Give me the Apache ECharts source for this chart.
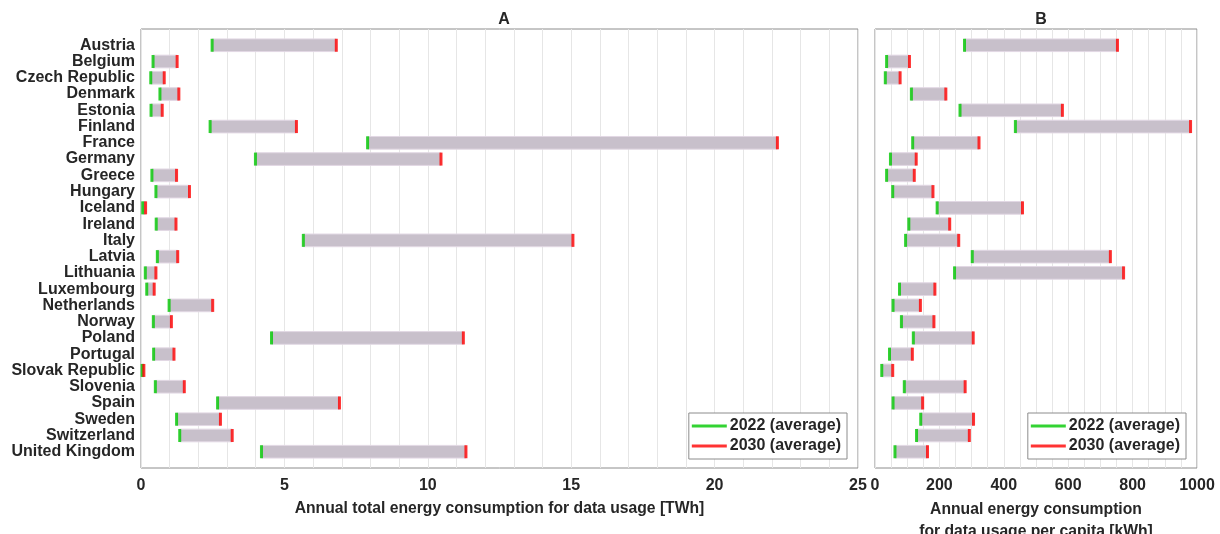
<!DOCTYPE html>
<html>
<head>
<meta charset="utf-8">
<script src="https://cdn.jsdelivr.net/npm/echarts@6/dist/echarts.min.js"></script>
<style>
html,body{margin:0;padding:0;background:#fff;}
#chart{width:1220px;height:534px;}
</style>
</head>
<body>
<div id="chart"></div>
<script>
const countries = ['Austria','Belgium','Czech Republic','Denmark','Estonia','Finland','France','Germany','Greece','Hungary','Iceland','Ireland','Italy','Latvia','Lithuania','Luxembourg','Netherlands','Norway','Poland','Portugal','Slovak Republic','Slovenia','Spain','Sweden','Switzerland','United Kingdom'];
const twh2022 = [2.48,0.42,0.34,0.66,0.35,2.41,7.90,3.99,0.38,0.52,0.06,0.53,5.66,0.57,0.15,0.20,0.98,0.43,4.55,0.44,0.04,0.50,2.67,1.24,1.35,4.20];
const twh2030 = [6.81,1.26,0.81,1.32,0.74,5.42,22.19,10.46,1.24,1.69,0.16,1.22,15.06,1.28,0.52,0.46,2.50,1.06,11.24,1.15,0.10,1.51,6.92,2.77,3.18,11.33];
const kwh2022 = [278,36,32,113,264,436,117,48,36,55,193,105,95,302,247,76,56,82,119,45,21,91,56,142,129,62];
const kwh2030 = [753,107,78,220,582,980,323,128,122,180,458,232,260,731,772,186,141,183,305,116,55,280,148,306,293,163];
const xTicksA = {min:0, max:25, interval:5};
const xTicksB = {min:0, max:1000, interval:200};
const legendNames = ['2022 (average)','2030 (average)'];

const FONT = 'Liberation Sans, Arial, sans-serif';
const TXT = '#262626';
const yCats = [''].concat(countries).concat(['']);

function rangeData(a, b){ return countries.map((c,i)=>[a[i], b[i], i+1]); }
function pointData(a){ return countries.map((c,i)=>[a[i], i+1]); }

function renderRange(params, api){
  const s = api.coord([api.value(0), api.value(2)]);
  const e = api.coord([api.value(1), api.value(2)]);
  const h = api.size([0,1])[1]*0.78;
  return {type:'rect', shape:{x:s[0], y:s[1]-h/2, width:e[0]-s[0], height:h},
    style:{fill:'#c8c0cb', stroke:'#e2d8e4', lineWidth:1}};
}

const chart = echarts.init(document.getElementById('chart'), null, {renderer:'canvas'});

function xAxisCfg(idx, t, name, gap, lh){
  return {gridIndex:idx, type:'value', min:t.min, max:t.max, interval:t.interval,
    axisLine:{show:false}, axisTick:{show:false},
    splitLine:{show:true, lineStyle:{color:'#e6e6e6', width:1}},
    minorTick:{show:false, splitNumber: idx===0?5:4},
    minorSplitLine:{show:true, lineStyle:{color:'#e6e6e6', width:1}},
    axisLabel:{fontFamily:FONT, fontWeight:'bold', fontSize:16, color:TXT, margin:10, formatter:function(v){return String(v);}},
    name:name, nameLocation:'middle', nameGap:gap,
    nameTextStyle:{fontFamily:FONT, fontWeight:'bold', fontSize:15.7, color:TXT, lineHeight:lh, verticalAlign:'top'}};
}
function yAxisCfg(idx, showLabel){
  return {gridIndex:idx, type:'category', data:yCats, inverse:true, boundaryGap:false,
    axisLine:{show:false}, axisTick:{show:false}, splitLine:{show:false},
    axisLabel:{show:showLabel, interval:0, fontFamily:FONT, fontWeight:'bold', fontSize:16, color:TXT, margin:6}};
}
function legendCfg(right){
  return {data:legendNames, orient:'vertical', right:right, bottom:75,
    icon:'rect', itemWidth:35, itemHeight:3, itemGap:4,
    padding:[5,6,5,3], borderColor:'#8c8c8c', borderWidth:1, backgroundColor:'#fff',
    textStyle:{fontFamily:FONT, fontWeight:'bold', fontSize:16, color:TXT, padding:[0,0,0,-2]},
    selectedMode:false};
}

const option = {
  animation:false,
  backgroundColor:'#fff',
  title:[
    {text:'A', left:499, top:7, textAlign:'center', textStyle:{fontFamily:FONT, fontWeight:'bold', fontSize:16, color:TXT}},
    {text:'B', left:1036, top:7, textAlign:'center', textStyle:{fontFamily:FONT, fontWeight:'bold', fontSize:16, color:TXT}}
  ],
  grid:[
    {left:141, right:362, top:29, height:439, show:true, borderColor:'#8c8c8c', borderWidth:1, backgroundColor:'#fff', containLabel:false, outerBoundsMode:'none'},
    {left:875, right:23, top:29, height:439, show:true, borderColor:'#8c8c8c', borderWidth:1, backgroundColor:'#fff', containLabel:false, outerBoundsMode:'none'}
  ],
  legend:[legendCfg(373), legendCfg(34)],
  xAxis:[
    xAxisCfg(0, xTicksA, 'Annual total energy consumption for data usage [TWh]', 30, 20),
    xAxisCfg(1, xTicksB, 'Annual energy consumption\nfor data usage per capita [kWh]', 29, 22)
  ],
  yAxis:[yAxisCfg(0, true), yAxisCfg(1, false)],
  series:[
    {type:'custom', xAxisIndex:0, yAxisIndex:0, renderItem:renderRange, encode:{x:[0,1], y:2}, data:rangeData(twh2022, twh2030), silent:true},
    {type:'custom', xAxisIndex:1, yAxisIndex:1, renderItem:renderRange, encode:{x:[0,1], y:2}, data:rangeData(kwh2022, kwh2030), silent:true},
    {name:legendNames[0], type:'scatter', xAxisIndex:0, yAxisIndex:0, symbol:'rect', symbolSize:[3,13], itemStyle:{color:'#00c800'}, data:pointData(twh2022), z:5},
    {name:legendNames[1], type:'scatter', xAxisIndex:0, yAxisIndex:0, symbol:'rect', symbolSize:[3,13], itemStyle:{color:'#ff0000'}, data:pointData(twh2030), z:5},
    {name:legendNames[0], type:'scatter', xAxisIndex:1, yAxisIndex:1, symbol:'rect', symbolSize:[3,13], itemStyle:{color:'#00c800'}, data:pointData(kwh2022), z:5},
    {name:legendNames[1], type:'scatter', xAxisIndex:1, yAxisIndex:1, symbol:'rect', symbolSize:[3,13], itemStyle:{color:'#ff0000'}, data:pointData(kwh2030), z:5}
  ]
};
chart.setOption(option);
</script>
</body>
</html>
